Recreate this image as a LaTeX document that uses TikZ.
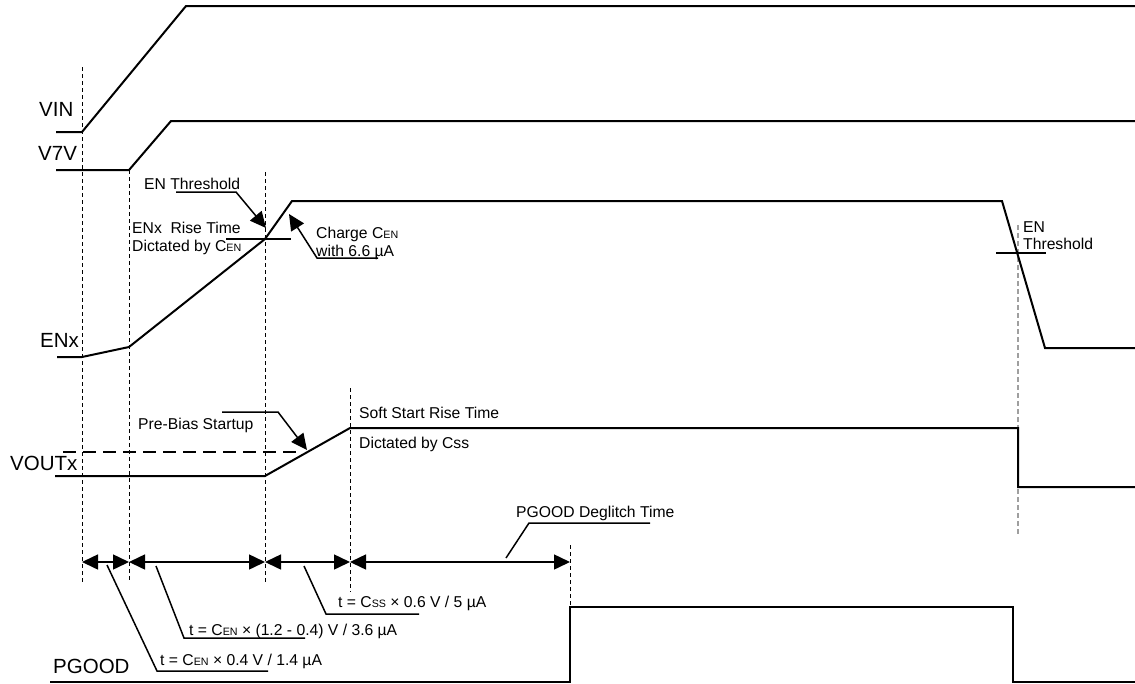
\documentclass[tikz,border=0pt]{standalone}
\usepackage{fontspec}
\setmainfont{Liberation Sans}
\usetikzlibrary{arrows.meta, positioning}

\newcommand{\sbs}[1]{\raisebox{-0.6pt}{\fontsize{10.7}{11}\selectfont #1}}

\begin{document}
\begin{tikzpicture}[
    x=1pt, y=-1pt,
    % Styles
    sig/.style={line width=2pt, black},
    guide/.style={line width=0.9pt, dash pattern=on 4pt off 3pt},
    guidegray/.style={line width=1.3pt, gray!75, dash pattern=on 5pt off 3pt},
    leader/.style={line width=1.5pt},
    leadarrow/.style={line width=1.5pt, -{Triangle[length=16pt,width=15pt]}},
    dimarrow/.style={line width=1.5pt, {Triangle[length=16pt,width=15pt]}-{Triangle[length=16pt,width=15pt]}},
    siglbl/.style={inner sep=0pt, anchor=base west, font=\fontsize{20.5}{24}\selectfont},
    lbl/.style={inner sep=0pt, anchor=base west, font=\fontsize{15.7}{18}\selectfont},
]
\useasboundingbox (0,0) rectangle (1135,683);

% === TIME MARKERS ===
\coordinate (ta) at (82,0);
\coordinate (tb) at (129,0);
\coordinate (tc) at (265,0);
\coordinate (td) at (350,0);
\coordinate (te) at (570,0);
\coordinate (tf) at (1018,0);

\draw[guide] (ta |- 0,67) -- (ta |- 0,582);
\draw[guide] (tb |- 0,170) -- (tb |- 0,582);
\draw[guide] (tc |- 0,172) -- (tc |- 0,583);
\draw[guide] (td |- 0,388) -- (td |- 0,592);
\draw[guide] (te |- 0,545) -- (te |- 0,606);
\draw[guidegray] (tf |- 0,225) -- (tf |- 0,534);

% === SIGNAL NAMES ===
\node[siglbl] (vinlbl) at (39,116) {VIN};
\node[siglbl] (v7vlbl) at (38,160) {V7V};
\node[siglbl] (enlbl) at (40,347) {ENx};
\node[siglbl] (voutlbl) at (10,470) {VOUTx};
\node[siglbl] (pglbl) at (53,673) {PGOOD};

% === WAVEFORMS ===
\draw[sig] (56,132) -- (82,132) -- (186,6) -- (1135,6);
\draw[sig] (56,170) -- (129,170) -- (171,121) -- (1135,121);
\draw[sig] (57,357) -- (82,357) -- (129,347) -- (265,239) -- (292,201)
    -- (1002,201) -- (1045,348) -- (1135,348);
\draw[sig] (55,476) -- (265,476) -- (350,428) -- (1018,428) -- (1018,487) -- (1135,487);
\draw[sig, dash pattern=on 13pt off 7pt, line width=1.8pt] (63,452) -- (300,452);
\draw[sig] (50,682) -- (570,682) -- (570,607) -- (1013,607) -- (1013,682) -- (1135,682);

% EN threshold marks
\draw[leader] (226,239) -- (291,239);
\draw[leader] (996,253) -- (1046,253);

% === ANNOTATIONS ===
\node[lbl] (enth) at (144,189) {EN Threshold};
\coordinate (enthtip) at (266,228);
\draw[leadarrow] (176,192) -- (236,192) -- (enthtip);

\node[lbl] (rise) at (132,233) {ENx\ \ Rise Time};
\node[lbl] (risedict) at (132,251) {Dictated by C\sbs{EN}};

\node[lbl] (charge) at (316,238) {Charge C\sbs{EN}};
\node[lbl] (chargeval) at (316,256) {with 6.6 µA};
\coordinate (chargetip) at (289,214);
\draw[leadarrow] (378,258) -- (317,258) -- (chargetip);

\node[lbl] (prebias) at (138,429) {Pre-Bias Startup};
\coordinate (prebiastip) at (307,450);
\draw[leadarrow] (222,412) -- (278,412) -- (prebiastip);

\node[lbl] (ss) at (359,418) {Soft Start Rise Time};
\node[lbl] (ssdict) at (359,448) {Dictated by Css};

\node[lbl] (enthr) at (1023,232) {EN};
\node[lbl] (enthr2) at (1023,249) {Threshold};

% === TIMING INTERVALS ===
\coordinate (dimy) at (0,562);
\draw[dimarrow] (ta |- dimy) -- (tb |- dimy);
\draw[dimarrow] (tb |- dimy) -- (tc |- dimy);
\draw[dimarrow] (tc |- dimy) -- (td |- dimy);
\draw[dimarrow] (td |- dimy) -- (te |- dimy);

\node[lbl] (t1) at (160,665) {t = C\sbs{EN} × 0.4 V / 1.4 µA};
\draw[leader] (107,565) -- (157,671) -- (268,671);

\node[lbl] (t2) at (189,635) {t = C\sbs{EN} × (1.2 - 0.4) V / 3.6 µA};
\draw[leader] (156,566) -- (184,638) -- (305,638);

\node[lbl] (t3) at (338,607) {t = C\sbs{SS} × 0.6 V / 5 µA};
\draw[leader] (304,566) -- (326,614) -- (419,614);

\node[lbl] (pgdg) at (516,517) {PGOOD Deglitch Time};
\draw[leader] (506,558) -- (529,523) -- (650,523);

\end{tikzpicture}
\end{document}
